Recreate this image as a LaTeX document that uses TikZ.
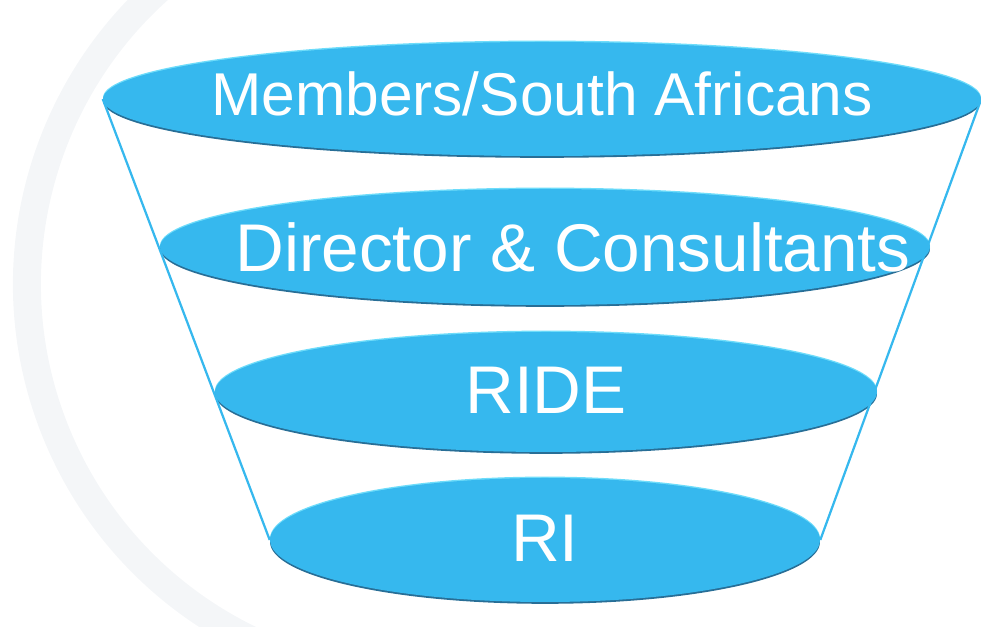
\documentclass[tikz,border=0pt]{standalone}
\usepackage{fontspec}
\setmainfont{Liberation Sans}
\usepackage{tikz}
\usetikzlibrary{shapes.geometric}

\definecolor{funnelblue}{RGB}{54,184,238}
\definecolor{funnellight}{RGB}{110,220,250}
\definecolor{funnelshade}{RGB}{40,110,150}
\definecolor{ringgray}{RGB}{244,246,248}

\tikzset{
    layer/.style={ellipse, fill=funnelblue, inner sep=0pt,
        preaction={fill=funnellight, transform canvas={yshift=1pt}},
        preaction={fill=funnelshade, transform canvas={yshift=-1.3pt}}},
    lbl/.style={text=white, font=\fontsize{48}{54}\selectfont},
    rim/.style={draw=funnelblue, line width=1.6pt}
}

\begin{document}
\begin{tikzpicture}
    \useasboundingbox (0,0) rectangle (24.525,15.675);
    \clip (0,0) rectangle (24.525,15.675);

    % faint ring behind the funnel
    \draw[ringgray, line width=0.7cm] (10.55,8.575) ++(115:9.875)
        arc (115:255:9.875);

    % the four layers, widest on top
    \node[layer, minimum width=21.95cm, minimum height=2.85cm,
        label={[lbl, font=\fontsize{43}{50}\selectfont, yshift=0.12cm]center:Members/South Africans}]
        (members) at (13.55,13.2) {};
    \node[layer, minimum width=19.25cm, minimum height=2.9cm,
        label={[lbl, xshift=0.7cm]center:Director \& Consultants}] (director) at (13.625,9.5) {};
    \node[layer, minimum width=16.55cm, minimum height=3.0cm,
        label={[lbl, yshift=0.05cm]center:RIDE}] (ride) at (13.65,5.875) {};
    \node[layer, minimum width=13.75cm, minimum height=3.1cm,
        label={[lbl, yshift=0.05cm]center:RI}] (ri) at (13.625,2.175) {};

    % sides of the funnel
    \draw[rim] (members.west) -- (ri.west);
    \draw[rim] (members.east) -- (ri.east);
\end{tikzpicture}
\end{document}
